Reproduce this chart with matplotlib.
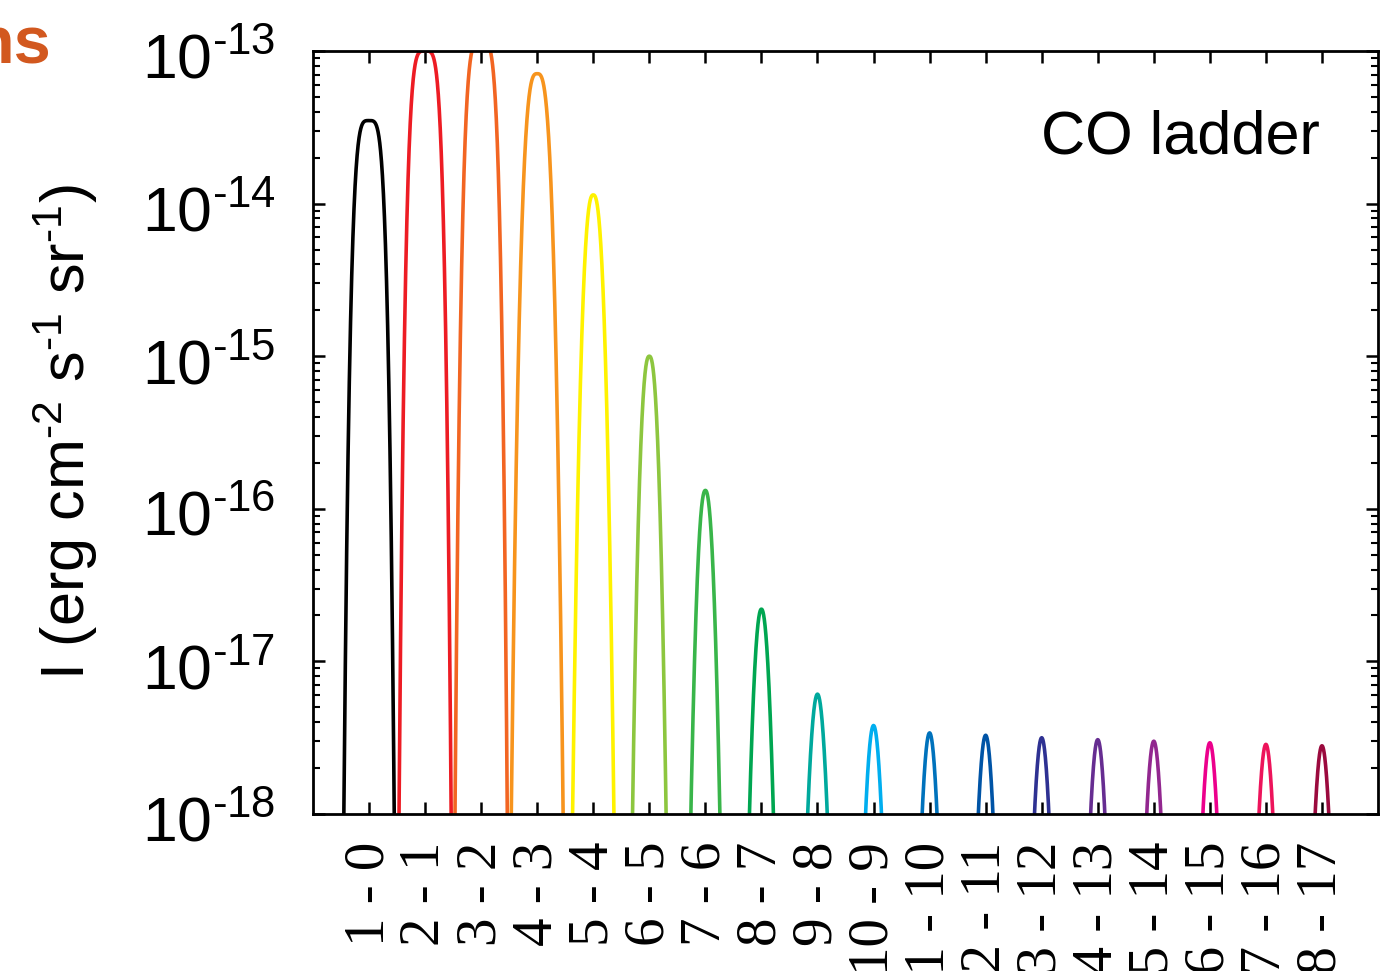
import numpy as np
import matplotlib
matplotlib.use("Agg")
import matplotlib.pyplot as plt
import matplotlib.transforms as mtransforms
from matplotlib.ticker import FixedLocator, LogLocator, NullFormatter

# ---------------- data ----------------
transitions = ["1 - 0", "2 - 1", "3 - 2", "4 - 3", "5 - 4", "6 - 5", "7 - 6", "8 - 7",
               "9 - 8", "10 - 9", "11 - 10", "12 - 11", "13 - 12", "14 - 13",
               "15 - 14", "16 - 15", "17 - 16", "18 - 17"]
# peak line intensities (erg cm^-2 s^-1 sr^-1)
peak_intensity = [3.5e-14, 1.0e-13, 1.16e-13, 7.1e-14, 1.14e-14, 1.0e-15, 1.32e-16,
                  2.2e-17, 6.1e-18, 3.8e-18, 3.4e-18, 3.28e-18, 3.16e-18, 3.07e-18,
                  3.0e-18, 2.93e-18, 2.86e-18, 2.8e-18]
# profile half-width parameter (in transition-slot units) and shape exponent
profile_width = [0.25, 0.26, 0.26, 0.207, 0.151, 0.134, 0.126, 0.125, 0.13,
                 0.123, 0.12, 0.12, 0.12, 0.12, 0.12, 0.12, 0.12, 0.12]
profile_exp = [4.0, 4.2, 4.2, 3.0, 2.5, 2.4, 2.2, 2.1, 2.0,
               2.0, 2.0, 2.0, 2.0, 2.0, 2.0, 2.0, 2.0, 2.0]
line_colors = ["#000000", "#ED1C24", "#F26522", "#F7941D", "#FFF200", "#8DC63F",
               "#39B54A", "#00A651", "#00A99D", "#00AEEF", "#0072BC", "#0054A6",
               "#2E3192", "#662D91", "#92278F", "#EC008C", "#ED145B", "#9B0A3E"]
yticks = [1e-18, 1e-17, 1e-16, 1e-15, 1e-14, 1e-13]
ytick_labels = [r"$10^{\text{-}18}$", r"$10^{\text{-}17}$", r"$10^{\text{-}16}$",
                r"$10^{\text{-}15}$", r"$10^{\text{-}14}$", r"$10^{\text{-}13}$"]

# ---------------- style ----------------
plt.rcParams["font.family"] = ["Liberation Sans", "DejaVu Sans"]
plt.rcParams["mathtext.fontset"] = "custom"
plt.rcParams["mathtext.rm"] = "Liberation Sans"
plt.rcParams["mathtext.it"] = "Liberation Sans:italic"
plt.rcParams["mathtext.bf"] = "Liberation Sans:bold"

fig = plt.figure(figsize=(13.86, 9.71), dpi=100)
ax = fig.add_axes([313 / 1386, 1 - 814 / 971, (1378 - 313) / 1386, (814 - 51) / 971])

offsets = np.linspace(-0.6, 0.6, 801)
for i, (A, w, p, c) in enumerate(zip(peak_intensity, profile_width, profile_exp, line_colors)):
    x = i + offsets
    y = A * np.exp(-np.abs(offsets / w) ** p)
    y = np.maximum(y, 1e-40)
    ax.plot(x, y, color=c, lw=2.6, solid_joinstyle="round")

ax.set_yscale("log")
ax.set_ylim(1e-18, 1e-13)
ax.set_xlim(-1, 18)

ax.tick_params(axis="both", which="major", direction="in", length=8.5, width=1.8,
               top=True, right=True)
ax.tick_params(axis="y", which="minor", direction="in", length=5, width=1.5,
               left=True, right=True)
ax.tick_params(axis="x", which="major", pad=20, labelsize=41,
               labelfontfamily="Liberation Serif", labelrotation=90)
ax.tick_params(axis="y", which="major", pad=27, labelsize=45)

ax.set_xticks(range(len(transitions)))
ax.set_xticklabels(transitions)
ax.yaxis.set_major_locator(FixedLocator(yticks))
ax.set_yticks(yticks)
ax.set_yticklabels(ytick_labels)
ax.yaxis.set_minor_locator(LogLocator(base=10, subs=np.arange(2, 10), numticks=20))
ax.yaxis.set_minor_formatter(NullFormatter())
shift = mtransforms.ScaledTranslation(0, -4 / 100, fig.dpi_scale_trans)
for lab in ax.get_yticklabels():
    lab.set_transform(lab.get_transform() + shift)

for s in ax.spines.values():
    s.set_linewidth(2.0)

ax.set_ylabel(r"I (erg cm$^{\text{-}2}$ s$^{\text{-}1}$ sr$^{\text{-}1}$)", fontsize=44)
ax.yaxis.set_label_coords(-0.2, 0.5)

ax.text(0.9455, 0.866, "CO ladder", transform=ax.transAxes, ha="right",
        va="baseline", fontsize=44)

fig.text(51 / 1386, 1 - 64 / 971, "ns", ha="right", va="baseline", fontsize=48,
         fontweight="bold", color="#D2581F",
         family=["Liberation Sans Narrow", "Liberation Sans", "DejaVu Sans"])

fig.savefig("out.png", dpi=100)
